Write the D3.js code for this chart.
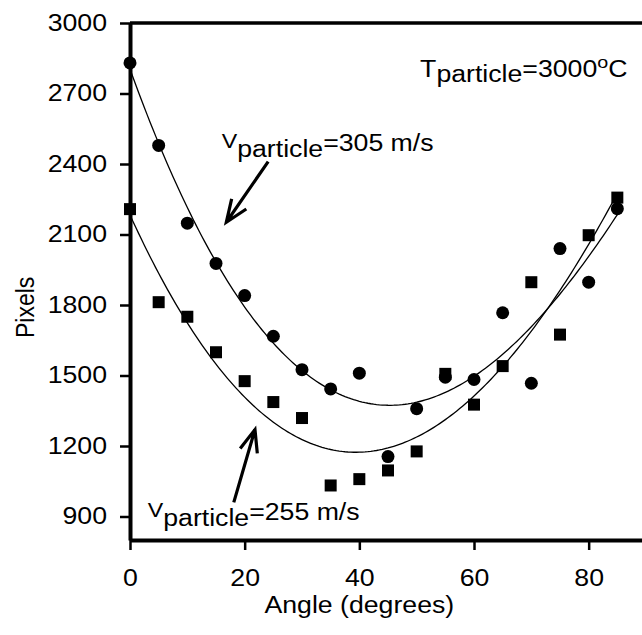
<!DOCTYPE html>
<html>
<head>
<meta charset="utf-8">
<script src="https://cdn.jsdelivr.net/npm/d3@7"></script>
<style>
  body { margin: 0; background: #fff; }
  svg { font-family: "Liberation Sans", Arial, Helvetica, sans-serif; }
</style>
</head>
<body>
<div id="chart"></div>
<script>
// data
const angles = [0, 5, 10, 15, 20, 25, 30, 35, 40, 45, 50, 55, 60, 65, 70, 75, 80, 85];
const pixelsV305 = [2830, 2479, 2148, 1977, 1840, 1667, 1525, 1443, 1510, 1155, 1359, 1493, 1483, 1767, 1467, 2040, 1897, 2210];
const pixelsV255 = [2208, 1812, 1750, 1599, 1476, 1387, 1319, 1032, 1059, 1096, 1177, 1507, 1376, 1540, 1897, 1674, 2097, 2257];
const xTicks = [0, 20, 40, 60, 80];
const yTicks = [900, 1200, 1500, 1800, 2100, 2400, 2700, 3000];

var width = 642, height = 635;
var SX = 1.16; // the source lettering is a bit wide
var FS = 23;

var svg = d3.select("#chart").append("svg")
    .attr("width", width)
    .attr("height", height);

var x = d3.scaleLinear().domain([0, 90]).range([130, 646]);
var y = d3.scaleLinear().domain([800, 3000]).range([540, 23]);

// widen text horizontally around its own anchor
function stretch(sel) {
  sel.each(function () {
    var t = d3.select(this);
    var tx = +t.attr("x") || 0;
    t.attr("x", tx / SX).attr("transform", "scale(" + SX + ",1)");
  });
}

// least squares polynomial fit (trend line)
function polyfit(xs, ys, deg) {
  var n = deg + 1, A = [], i, j, k;
  for (i = 0; i < n; i++) {
    A.push([]);
    for (j = 0; j < n; j++) A[i].push(d3.sum(xs, function (v) { return Math.pow(v, i + j); }));
    A[i].push(d3.sum(xs, function (v, m) { return Math.pow(v, i) * ys[m]; }));
  }
  for (i = 0; i < n; i++) {
    for (k = i + 1; k < n; k++) {
      var f = A[k][i] / A[i][i];
      for (j = i; j <= n; j++) A[k][j] -= f * A[i][j];
    }
  }
  var c = new Array(n).fill(0);
  for (i = n - 1; i >= 0; i--) {
    var s = A[i][n];
    for (j = i + 1; j < n; j++) s -= A[i][j] * c[j];
    c[i] = s / A[i][i];
  }
  return function (v) { return d3.sum(c, function (cc, p) { return cc * Math.pow(v, p); }); };
}

// ---- axes ----
var xAxis = svg.append("g")
    .attr("transform", "translate(0," + y(800) + ")")
    .call(d3.axisBottom(x).tickValues(xTicks).tickSize(10).tickSizeOuter(0).tickPadding(20)
      .tickFormat(d3.format("d")));

var yAxis = svg.append("g")
    .attr("transform", "translate(" + x(0) + ",0)")
    .call(d3.axisLeft(y).tickValues(yTicks).tickSize(10).tickSizeOuter(0).tickPadding(13)
      .tickFormat(d3.format("d")));

[xAxis, yAxis].forEach(function (ax) {
  ax.select(".domain").attr("stroke", "#000").attr("stroke-width", 4);
  ax.selectAll(".tick line").attr("stroke", "#000").attr("stroke-width", 2.5);
  ax.selectAll(".tick text").attr("fill", "#000").attr("font-size", FS).call(stretch);
});

// top frame line
svg.append("line")
    .attr("x1", x(0)).attr("x2", x(90))
    .attr("y1", y(3000)).attr("y2", y(3000))
    .attr("stroke", "#000").attr("stroke-width", 3.5);

// axis titles
svg.append("g").attr("transform", "translate(" + x(40) + ",613)")
  .append("text").attr("text-anchor", "middle").attr("font-size", FS)
    .text("Angle (degrees)").call(stretch);

svg.append("text")
    .attr("transform", "translate(34," + y(1790) + ") rotate(-90) scale(1," + SX + ")")
    .attr("text-anchor", "middle").attr("font-size", FS)
    .text("Pixels");

// ---- fit curves ----
var fit305 = polyfit(angles, pixelsV305, 3);
var fit255 = polyfit(angles, pixelsV255, 3);
var xs = d3.range(0, 85.001, 0.5);
var line = d3.line().x(function (d) { return x(d[0]); }).y(function (d) { return y(d[1]); });

[fit305, fit255].forEach(function (f) {
  svg.append("path")
      .attr("d", line(xs.map(function (v) { return [v, f(v)]; })))
      .attr("fill", "none").attr("stroke", "#000").attr("stroke-width", 1.3);
});

// ---- points ----
svg.append("g").selectAll("circle")
  .data(angles)
  .enter().append("circle")
    .attr("cx", function (d) { return x(d); })
    .attr("cy", function (d, i) { return y(pixelsV305[i]); })
    .attr("r", 6.5)
    .attr("fill", "#000");

svg.append("g").selectAll("rect")
  .data(angles)
  .enter().append("rect")
    .attr("x", function (d) { return x(d) - 6; })
    .attr("y", function (d, i) { return y(pixelsV255[i]) - 6; })
    .attr("width", 12).attr("height", 12)
    .attr("fill", "#000");

// ---- annotations ----
function label(ax, ay, main, sub, rest, sup, tail) {
  var g = svg.append("g").attr("transform", "translate(" + x(ax) + "," + y(ay) + ")");
  var t = g.append("text").attr("font-size", FS).attr("transform", "scale(" + SX + ",1)");
  var isV = main === "V";
  t.append("tspan").text(main).attr("font-size", isV ? 20 : FS).attr("dy", isV ? -3 : 0);
  t.append("tspan").text(sub).attr("dy", isV ? 9 : 5);
  t.append("tspan").text(rest).attr("dy", isV ? -6 : -5);
  if (sup) {
    t.append("tspan").text(sup).attr("font-size", 17).attr("dy", -9);
    t.append("tspan").text(tail).attr("dy", 9);
  }
}
label(50.6, 2770, "T", "particle", "=3000", "o", "C");
label(16.0, 2455, "V", "particle", "=305 m/s");
label(3.1, 885, "V", "particle", "=255 m/s");

function arrow(ax0, ay0, ax1, ay1) {
  var x0 = x(ax0), y0 = y(ay0), x1 = x(ax1), y1 = y(ay1);
  var a = Math.atan2(y1 - y0, x1 - x0), len = 24, spread = 0.38;
  var p = d3.path();
  p.moveTo(x0, y0); p.lineTo(x1, y1);
  p.moveTo(x1 - len * Math.cos(a - spread), y1 - len * Math.sin(a - spread));
  p.lineTo(x1, y1);
  p.lineTo(x1 - len * Math.cos(a + spread), y1 - len * Math.sin(a + spread));
  svg.append("path").attr("d", p.toString())
      .attr("fill", "none").attr("stroke", "#000").attr("stroke-width", 3.2)
      .attr("stroke-linejoin", "miter");
}
arrow(24.1, 2410, 16.8, 2152);
arrow(18.1, 960, 21.8, 1270);
</script>
</body>
</html>
